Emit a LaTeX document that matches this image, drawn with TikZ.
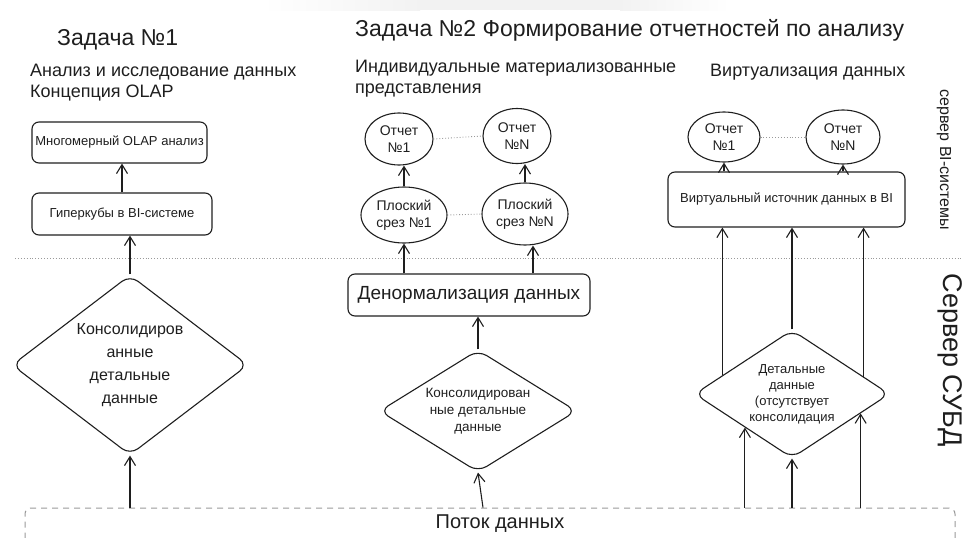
\documentclass[tikz,border=0pt]{standalone}
\usepackage{fontspec}
\setmainfont{Liberation Sans}
\usetikzlibrary{shapes.geometric,arrows.meta,calc}
\definecolor{ink}{HTML}{1E1E1E}
\definecolor{guide}{HTML}{9A9A9A}
\newcommand\fsz[2]{\fontsize{#1}{#2}\selectfont}

\begin{document}
\begin{tikzpicture}[x=1pt,y=-1pt,
  every node/.style={text=ink, inner sep=0pt, align=center},
  title/.style={font=\fsz{23}{27}},
  subtitle/.style={font=\fsz{18}{21}, align=left},
  box/.style={draw=ink, line width=1.1pt, rounded corners=7pt, rectangle, font=\fsz{13}{15}},
  oval/.style={draw=ink, line width=1.1pt, ellipse, font=\fsz{14}{17}},
  rhomb/.style={draw=ink, line width=1.1pt, diamond, rounded corners=10pt},
  arr/.style={draw=ink, line width=1.1pt, -{Straight Barb[length=9pt,width=11pt]}},
  link/.style={draw=guide, line width=0.9pt, dotted},
  sepline/.style={draw=guide, line width=0.9pt, dotted},
  flowbox/.style={draw=guide, line width=1pt, dash pattern=on 6pt off 5pt, rounded corners=6pt, rectangle}
]
\useasboundingbox (0,0) rectangle (970,538);
\clip (0,0) rectangle (970,538);

% faint band along the top edge
\shade[left color=white, right color=black!5] (262,0) rectangle (420,10);
\fill[black!5] (420,0) rectangle (620,10);
\shade[left color=black!5, right color=white] (620,0) rectangle (730,10);

% headings
\node[title, anchor=west] (t1) at (57,40) {Задача №1};
\node[title, anchor=west] (t2) at (355,30) {Задача №2 Формирование отчетностей по анализу};
\node[subtitle, anchor=north west] (s1) at (30,64) {Анализ и исследование данных\\Концепция OLAP};
\node[subtitle, anchor=north west] (s2) at (355,60) {Индивидуальные материализованные\\представления};
\node[subtitle, anchor=west] (s3) at (710,72) {Виртуализация данных};

% boundary between BI server and DBMS server
\draw[sepline] (15,258) -- (962,258);

% data flow
\node[flowbox, minimum width=930pt, minimum height=60pt] (flow) at (490,538) {};
\node[font=\fsz{20}{24}] (flowtxt) at (500,524) {Поток данных};

% task 1: OLAP
\node[box, minimum width=175pt, minimum height=41pt] (olap) at (119.5,142.5) {Многомерный OLAP анализ};
\node[box, minimum width=180pt, minimum height=42pt] (cube) at (122,214) {Гиперкубы в BI-системе};
\node[rhomb, minimum width=236pt, minimum height=180pt,
  label={[font=\fsz{16}{23}, align=center]center:{Консолидиров\\анные\\детальные\\данные}}] (cons1) at (130,365) {};
\draw[arr] (cube.north) -- (cube.north |- olap.south);
\draw[arr] (cons1.north) -- (cons1.north |- cube.south);
\draw[arr] (flow.north -| cons1.south) -- (cons1.south);

% task 2: materialized views
\node[oval, minimum width=68pt, minimum height=52pt] (rep1) at (399,139) {Отчет\\№1};
\node[oval, minimum width=68pt, minimum height=55pt] (repN) at (517,136) {Отчет\\№N};
\node[oval, minimum width=86pt, minimum height=56pt] (cut1) at (404,215) {Плоский\\срез №1};
\node[oval, minimum width=86pt, minimum height=62pt] (cutN) at (525,214) {Плоский\\срез №N};
\node[box, minimum width=242pt, minimum height=42pt, font=\fsz{19}{22}] (denorm) at (469,295) {Денормализация данных};
\node[rhomb, minimum width=197pt, minimum height=122pt,
  label={[font=\fsz{13.5}{17}, align=center]center:{Консолидирован\\ные детальные\\данные}}] (cons2) at (478,411) {};
\draw[link] (rep1.east) -- (repN.west);
\draw[link] (cut1.east) -- (cutN.west);
\draw[arr] (cut1.north) -- (cut1.north |- rep1.south);
\draw[arr] (cutN.north) -- (cutN.north |- repN.south);
\draw[arr] (denorm.north -| cut1.south) -- (cut1.south);
\draw[arr] ([xshift=8pt]denorm.north -| cutN.south) -- ([xshift=8pt]cutN.south);
\draw[arr] (cons2.north) -- (cons2.north |- denorm.south);
\draw[arr] ([xshift=5pt]flow.north -| cons2.south) -- (cons2.south);

% task 2: virtualization
\node[oval, minimum width=72pt, minimum height=50pt] (vrep1) at (724,137) {Отчет\\№1};
\node[oval, minimum width=74pt, minimum height=54pt] (vrepN) at (843,137) {Отчет\\№N};
\node[box, minimum width=237pt, minimum height=55pt] (vsrc) at (786.5,199.5) {Виртуальный источник данных в BI};
\node[rhomb, minimum width=195pt, minimum height=128pt,
  label={[font=\fsz{13}{16}, align=center]center:{Детальные\\данные\\(отсутствует\\консолидация}}] (detail) at (792,394) {};
\draw[link] (vrep1.east) -- (vrepN.west);
\draw[arr] (vsrc.north -| vrep1.south) -- (vrep1.south);
\draw[arr] (vsrc.north -| vrepN.south) -- (vrepN.south);
\coordinate (dUL) at ($(detail.west)!0.29!(detail.north)$);
\coordinate (dUR) at ($(detail.north)!0.73!(detail.east)$);
\coordinate (dLL) at ($(detail.west)!0.52!(detail.south)$);
\coordinate (dLR) at ($(detail.south)!0.70!(detail.east)$);
\draw[arr] (dUL) -- (dUL |- vsrc.south);
\draw[arr] (detail.north) -- (detail.north |- vsrc.south);
\draw[arr] (dUR) -- (dUR |- vsrc.south);
\draw[arr] (flow.north -| dLL) -- (dLL);
\draw[arr] (flow.north -| detail.south) -- (detail.south);
\draw[arr] (flow.north -| dLR) -- (dLR);

% server labels
\node[font=\fsz{16}{18}, rotate=-90] (biserv) at (944,160) {сервер BI-системы};
\node[font=\fsz{27}{30}, rotate=-90] (dbserv) at (950,360) {Сервер СУБД};
\end{tikzpicture}
\end{document}
